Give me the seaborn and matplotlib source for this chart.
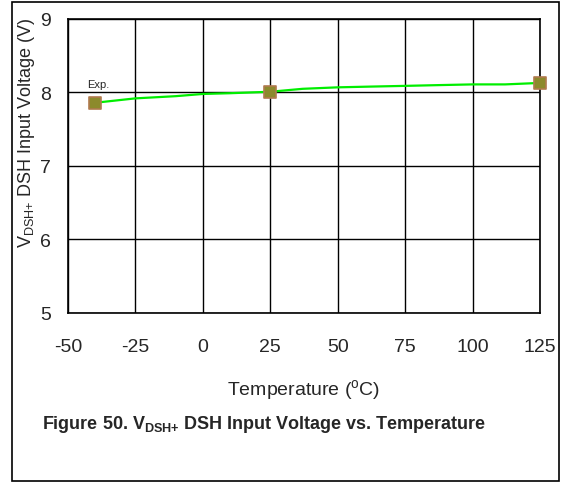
import matplotlib
matplotlib.use("Agg")
import matplotlib.pyplot as plt
import pandas as pd
import seaborn as sns
from matplotlib.patches import Rectangle

# curve
temps = [-40, -25, -10, 0, 10, 25, 37, 50, 62, 75, 87, 100, 112, 125]
volts = [7.86, 7.92, 7.95, 7.98, 7.99, 8.01, 8.05, 8.07, 8.08, 8.09, 8.10, 8.11, 8.11, 8.13]

# measured points (squares)
mark_temps = [-40, 25, 125]
mark_volts = [7.86, 8.01, 8.13]

x_ticks = [-50, -25, 0, 25, 50, 75, 100, 125]
y_ticks = [5, 6, 7, 8, 9]

sns.set_style("white")
plt.rcParams["font.family"] = ["Liberation Sans", "DejaVu Sans"]
plt.rcParams["mathtext.default"] = "regular"
plt.rcParams["axes.unicode_minus"] = False

curve = pd.DataFrame({"temp": temps, "volt": volts})
marks = pd.DataFrame({"temp": mark_temps, "volt": mark_volts})

fig = plt.figure(figsize=(5.62, 4.85), dpi=100)
ax = fig.add_axes([0.121, 0.3526, 0.840, 0.6062])

sns.lineplot(data=curve, x="temp", y="volt", color="#00ee00", linewidth=1.6, ax=ax)
sns.scatterplot(data=marks, x="temp", y="volt", marker="s", s=70,
                color="#8c8a2c", edgecolor="#b07a4e", linewidth=1.2, zorder=5,
                clip_on=False, ax=ax)

ax.set_xlim(-50, 125)
ax.set_ylim(5, 9)
ax.set_xticks(x_ticks)
ax.set_yticks(y_ticks)
ax.tick_params(labelsize=14, length=0)
ax.tick_params(axis="x", pad=18)
ax.tick_params(axis="y", pad=12)
ax.grid(True, color="black", linewidth=1.0)
for s in ax.spines.values():
    s.set_color("black")
    s.set_linewidth(1.2)

ax.set_xlabel("Temperature ($^{o}$C)", fontsize=14, labelpad=16)
ax.set_ylabel("V$_{DSH{+}}$ DSH Input Voltage (V)", fontsize=13)
ax.yaxis.set_label_coords(-0.066, 0.615)
ax.text(-43, 8.08, "Exp.", fontsize=8)

fig.text(0.47, 0.124, "Figure 50. V$_{DSH{+}}$ DSH Input Voltage vs. Temperature",
         ha="center", va="center", fontsize=13, fontweight="bold")

fig.patches.append(Rectangle((12 / 562, 3 / 485), 547 / 562, 479 / 485,
                             transform=fig.transFigure, fill=False,
                             edgecolor="black", linewidth=1.2))

fig.savefig("out.png", dpi=100)
